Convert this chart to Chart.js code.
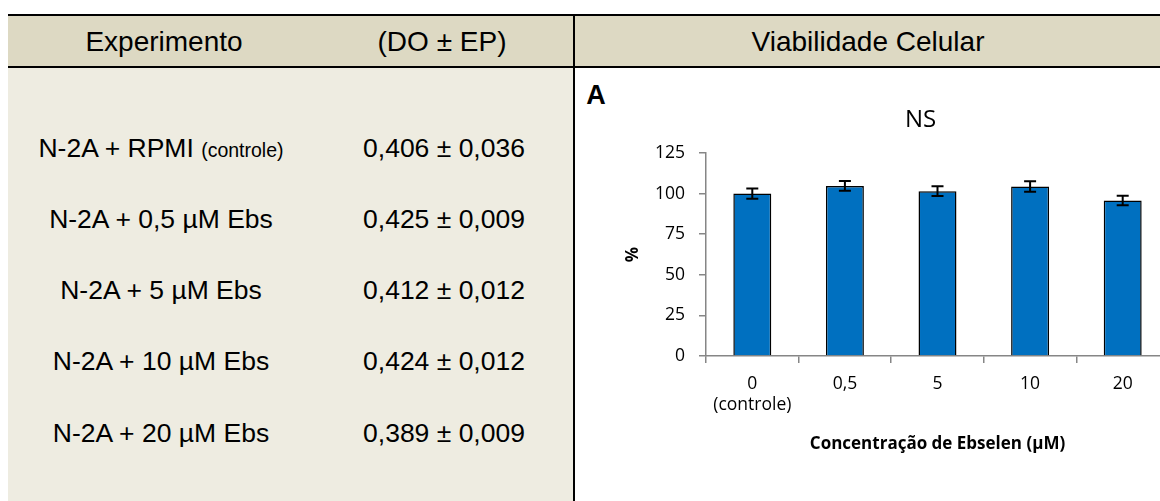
<!DOCTYPE html>
<html>
<head>
<meta charset="utf-8">
<script src="https://cdn.jsdelivr.net/npm/chart.js@4.4.1/dist/chart.umd.min.js"></script>
<style>
  html, body { margin: 0; padding: 0; width: 1160px; height: 501px; overflow: hidden; background: #ffffff; }
  .box { position: absolute; }
  .txt { position: absolute; white-space: nowrap; font-family: "Liberation Sans", Arial, sans-serif; color: #000; transform: translate(-50%, -50%); line-height: 1; }
  .hdr { font-size: 28px; }
  .row { font-size: 26.5px; }
  .small { font-size: 19.5px; }
  #panel { position: absolute; left: 576px; top: 68px; width: 692px; height: 433px; }
  #chart { display: block; width: 692px; height: 433px; }
</style>
</head>
<body>
<!-- table frame -->
<div class="box" style="left:8px;top:16px;width:1152px;height:50px;background:#DDD9C3;"></div>
<div class="box" style="left:8px;top:68px;width:565px;height:433px;background:#EEECE1;"></div>
<div class="box" style="left:8px;top:14px;width:1152px;height:2px;background:#000;"></div>
<div class="box" style="left:8px;top:66px;width:1152px;height:2px;background:#000;"></div>
<div class="box" style="left:573px;top:14px;width:2px;height:487px;background:#000;"></div>
<div id="cells"></div>
<div class="txt" style="left:596px;top:95px;font-size:27px;font-weight:bold;">A</div>
<div id="panel"><canvas id="chart" width="692" height="433"></canvas></div>

<script>
// Table contents
const headers = ["Experimento", "(DO ± EP)", "Viabilidade Celular"];
const experiments = ["N-2A + RPMI", "N-2A + 0,5 µM Ebs", "N-2A + 5 µM Ebs", "N-2A + 10 µM Ebs", "N-2A + 20 µM Ebs"];
const experimentNotes = ["(controle)", "", "", "", ""];
const doMeans = ["0,406", "0,425", "0,412", "0,424", "0,389"];
const doErrors = ["0,036", "0,009", "0,012", "0,012", "0,009"];

// Chart contents
const chartTitle = "NS";
const concentrations = [["0", "(controle)"], "0,5", "5", "10", "20"];
const viability = [100, 104.7, 101.5, 104.4, 95.8];
const viabilityErr = [3.1, 3.0, 3.0, 3.2, 2.9];
const yTicks = [0, 25, 50, 75, 100, 125];

// build table text
const cells = document.getElementById('cells');
function addText(html, x, y, cls) {
  const d = document.createElement('div');
  d.className = 'txt ' + cls;
  d.style.left = x + 'px';
  d.style.top = y + 'px';
  d.innerHTML = html;
  cells.appendChild(d);
}
const headerX = [164, 442, 868];
headers.forEach((h, i) => addText(h, headerX[i], 42, 'hdr'));
const rowY = [148, 219, 290, 361, 433];
experiments.forEach((e, i) => {
  const note = experimentNotes[i] ? ' <span class="small">' + experimentNotes[i] + '</span>' : '';
  addText(e + note, 161, rowY[i], 'row');
  addText(doMeans[i] + ' ± ' + doErrors[i], 444, rowY[i], 'row');
});

// error bars drawn on top of each bar
const errorBars = {
  id: 'errorBars',
  afterDatasetsDraw(chart) {
    const ctx = chart.ctx;
    const y = chart.scales.y;
    const meta = chart.getDatasetMeta(0);
    ctx.save();
    ctx.strokeStyle = '#000';
    ctx.lineWidth = 2;
    meta.data.forEach((bar, i) => {
      const v = viability[i], e = viabilityErr[i];
      const top = y.getPixelForValue(v + e);
      const bot = y.getPixelForValue(v - e);
      const cx = bar.x, cap = 6;
      ctx.beginPath();
      ctx.moveTo(cx, top); ctx.lineTo(cx, bot);
      ctx.moveTo(cx - cap, top); ctx.lineTo(cx + cap, top);
      ctx.moveTo(cx - cap, bot); ctx.lineTo(cx + cap, bot);
      ctx.stroke();
    });
    ctx.restore();
  }
};

// chart heading, centred over the chart object rather than the plot
const heading = {
  id: 'heading',
  afterDraw(chart) {
    const ctx = chart.ctx;
    const a = chart.chartArea;
    ctx.save();
    ctx.fillStyle = '#000';
    ctx.font = "24px 'Open Sans', sans-serif";
    ctx.textAlign = 'center';
    ctx.textBaseline = 'middle';
    ctx.fillText(chartTitle, (a.left + a.right) / 2 - 17, a.top - 33);
    ctx.restore();
  }
};

const tickFont = { family: "'Open Sans', sans-serif", size: 17.5 };

new Chart(document.getElementById('chart'), {
  type: 'bar',
  data: {
    labels: concentrations,
    datasets: [{
      data: viability,
      backgroundColor: '#0070C0',
      borderColor: '#000000',
      borderWidth: 1.5,
      categoryPercentage: 1,
      barPercentage: 0.41
    }]
  },
  options: {
    responsive: false,
    animation: false,
    devicePixelRatio: 1,
    layout: { padding: { top: 85, left: 47, right: 99, bottom: 47 } },
    plugins: {
      legend: { display: false },
      tooltip: { enabled: false },
      title: { display: false }
    },
    scales: {
      x: {
        grid: { display: true, offset: true, drawOnChartArea: false, drawTicks: true, tickLength: 7, color: '#868686', lineWidth: 1.5 },
        border: { display: true, color: '#868686', width: 1.5 },
        ticks: { color: '#000', font: tickFont, padding: 11, maxRotation: 0, autoSkip: false },
        title: {
          display: true,
          text: 'Concentração de Ebselen (µM)',
          color: '#000',
          font: { family: "'Open Sans', sans-serif", size: 17, weight: 'bold', lineHeight: 1.2 },
          padding: { top: 0, bottom: 0 }
        },
        afterFit(scale) { scale.height = 98; }
      },
      y: {
        min: 0,
        max: 125,
        afterBuildTicks(scale) { scale.ticks = yTicks.map(v => ({ value: v })); },
        grid: { display: true, drawOnChartArea: false, drawTicks: true, tickLength: 7, color: '#868686', lineWidth: 1.5 },
        border: { display: true, color: '#868686', width: 1.5 },
        ticks: { color: '#000', font: tickFont, padding: 14 },
        title: {
          display: true,
          text: '%',
          color: '#000',
          font: { family: "'Open Sans', sans-serif", size: 17, weight: 'bold', lineHeight: 1.2 },
          padding: { top: 0, bottom: 0 }
        },
        afterFit(scale) { scale.width = 83; }
      }
    }
  },
  plugins: [errorBars, heading]
});
</script>
</body>
</html>
